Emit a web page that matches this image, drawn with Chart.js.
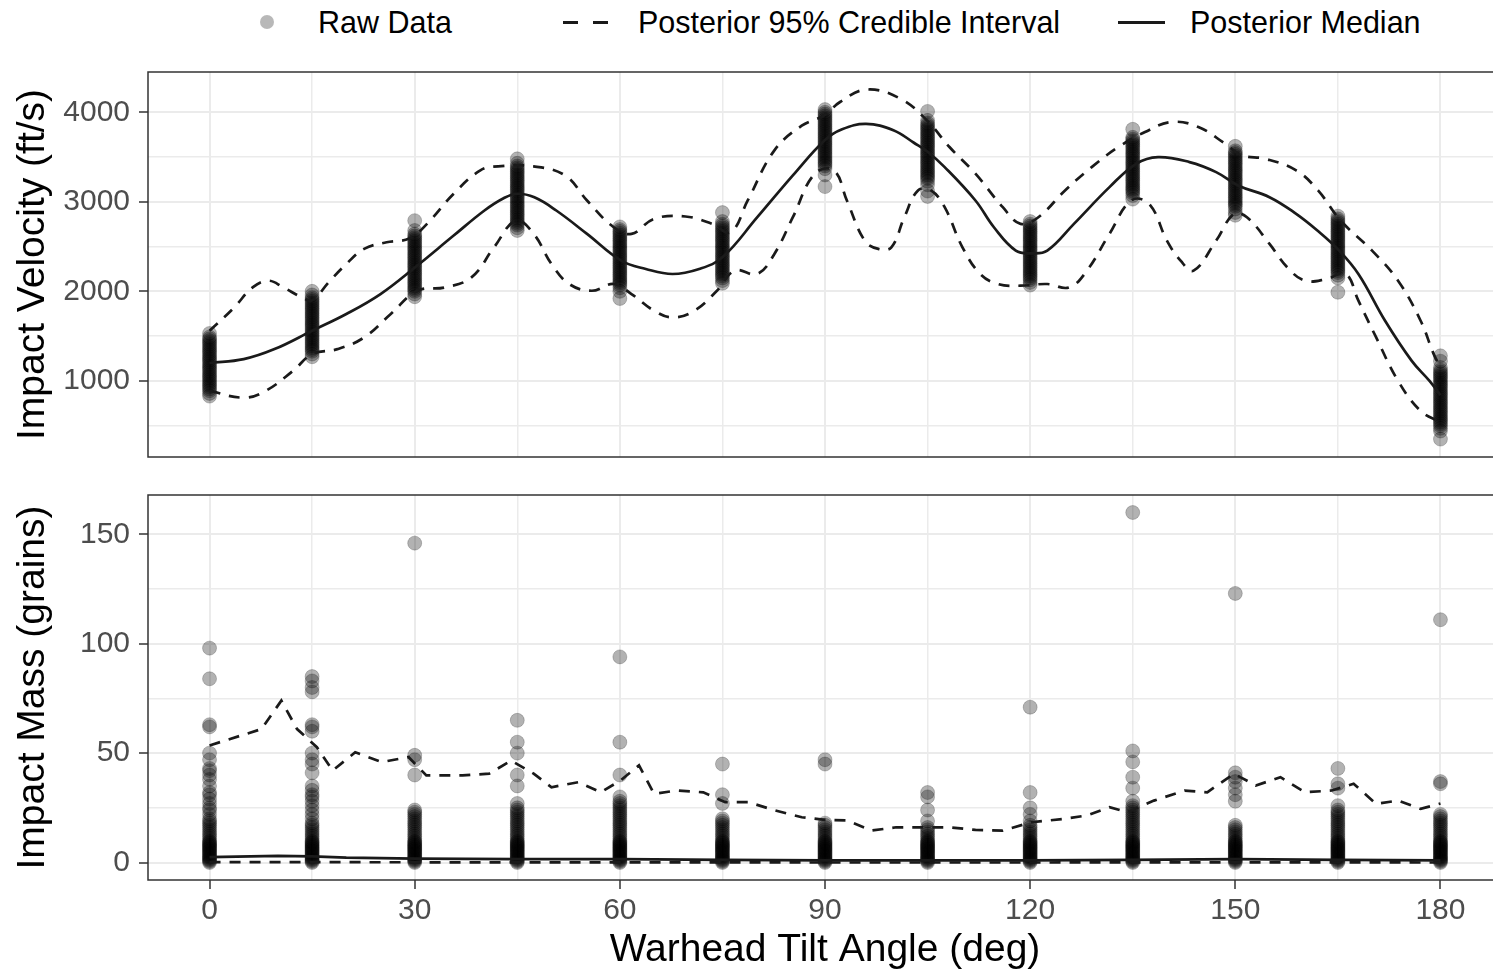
<!DOCTYPE html>
<html>
<head>
<meta charset="utf-8">
<script src="https://cdn.jsdelivr.net/npm/chart.js@4.4.1/dist/chart.umd.min.js"></script>
<style>
html, body { margin: 0; padding: 0; background: #fff; overflow: hidden; }
#page { position: relative; width: 1493px; height: 974px; overflow: hidden; font-family: "Liberation Sans", Arial, sans-serif; }
.lbl { position: absolute; top: 7px; font-size: 30.5px; line-height: 1; color: #000; white-space: nowrap; }
.key { position: absolute; }
canvas { position: absolute; left: 0; }
</style>
</head>
<body>
<div id="page">
  <div class="key" style="left:260px;top:15px;width:14px;height:14px;border-radius:50%;background:rgba(0,0,0,0.28);"></div>
  <div class="lbl" style="left:318px;">Raw Data</div>
  <div class="key" style="left:563px;top:21px;width:15px;height:3px;background:#1a1a1a;"></div>
  <div class="key" style="left:593px;top:21px;width:15px;height:3px;background:#1a1a1a;"></div>
  <div class="lbl" style="left:638px;">Posterior 95% Credible Interval</div>
  <div class="key" style="left:1118px;top:21px;width:47px;height:3px;background:#1a1a1a;"></div>
  <div class="lbl" style="left:1190px;">Posterior Median</div>
  <canvas id="velChart" width="1510" height="484" style="top:0"></canvas>
  <canvas id="massChart" width="1510" height="506" style="top:468px"></canvas>
</div>
<script>
// test angles (deg)
const angles = [0, 15, 30, 45, 60, 75, 90, 105, 120, 135, 150, 165, 180];
const xTicks = [0, 15, 30, 45, 60, 75, 90, 105, 120, 135, 150, 165, 180];
const velTicks = [500, 1000, 1500, 2000, 2500, 3000, 3500, 4000];
const massTicks = [0, 25, 50, 75, 100, 125, 150];

// raw impact velocity samples (ft/s), one list per angle
const velRaw = [
  [1530,1490,1470,1450,1430,1410,1390,1370,1350,1330,1310,1290,1270,1250,1230,1210,1190,1170,1150,1130,1110,1090,1070,1050,1030,1010,990,970,950,930,910,890,860,830],
  [2000,1960,1930,1910,1890,1870,1850,1830,1810,1790,1770,1750,1730,1710,1690,1670,1650,1630,1610,1590,1570,1550,1530,1510,1490,1470,1450,1430,1410,1390,1370,1350,1330,1300,1270],
  [2790,2680,2640,2620,2600,2580,2560,2540,2520,2500,2480,2460,2440,2420,2400,2380,2360,2340,2320,2300,2280,2260,2240,2220,2200,2180,2160,2140,2120,2100,2080,2060,2040,2020,2000,1970,1940],
  [3480,3430,3400,3380,3360,3340,3320,3300,3280,3260,3240,3220,3200,3180,3160,3140,3120,3100,3080,3060,3040,3020,3000,2980,2960,2940,2920,2900,2880,2860,2840,2820,2800,2780,2760,2740,2710,2680],
  [2720,2690,2670,2650,2630,2610,2590,2570,2550,2530,2510,2490,2470,2450,2430,2410,2390,2370,2350,2330,2310,2290,2270,2250,2230,2210,2190,2170,2150,2130,2110,2090,2070,2040,2000,1920],
  [2880,2780,2750,2730,2710,2690,2670,2650,2630,2610,2590,2570,2550,2530,2510,2490,2470,2450,2430,2410,2390,2370,2350,2330,2310,2290,2270,2250,2230,2210,2190,2170,2150,2120,2090],
  [4030,4000,3980,3960,3940,3920,3900,3880,3860,3840,3820,3800,3780,3760,3740,3720,3700,3680,3660,3640,3620,3600,3580,3560,3540,3520,3500,3480,3460,3440,3420,3400,3370,3300,3170],
  [4010,3910,3880,3860,3840,3820,3800,3780,3760,3740,3720,3700,3680,3660,3640,3620,3600,3580,3560,3540,3520,3500,3480,3460,3440,3420,3400,3380,3360,3340,3320,3300,3280,3260,3230,3190,3120,3060],
  [2780,2750,2730,2710,2690,2670,2650,2630,2610,2590,2570,2550,2530,2510,2490,2470,2450,2430,2410,2390,2370,2350,2330,2310,2290,2270,2250,2230,2210,2190,2170,2150,2130,2100,2070],
  [3810,3720,3700,3680,3660,3640,3620,3600,3580,3560,3540,3520,3500,3480,3460,3440,3420,3400,3380,3360,3340,3320,3300,3280,3260,3240,3220,3200,3180,3160,3140,3120,3100,3070,3030],
  [3620,3570,3550,3530,3510,3490,3470,3450,3430,3410,3390,3370,3350,3330,3310,3290,3270,3250,3230,3210,3190,3170,3150,3130,3110,3090,3070,3050,3030,3010,2990,2970,2950,2920,2880,2850],
  [2840,2810,2790,2770,2750,2730,2710,2690,2670,2650,2630,2610,2590,2570,2550,2530,2510,2490,2470,2450,2430,2410,2390,2370,2350,2330,2310,2290,2270,2250,2230,2210,2180,2150,1990],
  [1280,1220,1150,1120,1100,1080,1060,1040,1020,1000,980,960,940,920,900,880,860,840,820,800,780,760,740,720,700,680,660,640,620,600,580,560,540,520,500,470,440,350]
];

// raw impact mass samples (grains), one list per angle
const massRaw = [
  [98,84,63,62,50,47,43,42,40,38,35,32,31,29,27,25,24,22,20,19,18,17,16,15,14,13,12,11,10,9.5,9,8.5,8,7.5,7,6.5,6,5.5,5,4.5,4,3.5,3,2.5,2,1.5,1,0.5,0],
  [85,83,80,78,63,62,60,50,47,45,41,35,33,31,30,28,26,24,22,20,18,17,16,15,14,13,12,11,10,9.5,9,8.5,8,7.5,7,6.5,6,5.5,5,4.5,4,3.5,3,2.5,2,1.5,1,0.5,0],
  [146,49,47,40,24,23,22,21,20,19,18,17,16,15,14,13,12,11,10,9.5,9,8.5,8,7.5,7,6.5,6,5.5,5,4.5,4,3.5,3,2.5,2,1.5,1,0.5,0],
  [65,55,50,40,35,27,25,24,23,22,21,20,19,18,17,16,15,14,13,12,11,10,9.5,9,8.5,8,7.5,7,6.5,6,5.5,5,4.5,4,3.5,3,2.5,2,1.5,1,0.5,0],
  [94,55,40,30,28,27,26,25,24,23,22,21,20,19,18,17,16,15,14,13,12,11,10,9.5,9,8.5,8,7.5,7,6.5,6,5.5,5,4.5,4,3.5,3,2.5,2,1.5,1,0.5,0],
  [45,31,27,20,19,18,17,16,15,14,13,12,11,10,9.5,9,8.5,8,7.5,7,6.5,6,5.5,5,4.5,4,3.5,3,2.5,2,1.5,1,0.5,0],
  [47,45,18,17,16,15,14,13,12,11,10,9.5,9,8.5,8,7.5,7,6.5,6,5.5,5,4.5,4,3.5,3,2.5,2,1.5,1,0.5,0],
  [32,30,24,19,16,15,14,13,12,11,10,9.5,9,8.5,8,7.5,7,6.5,6,5.5,5,4.5,4,3.5,3,2.5,2,1.5,1,0.5,0],
  [71,32,25,22,19,17,16,15,14,13,12,11,10,9.5,9,8.5,8,7.5,7,6.5,6,5.5,5,4.5,4,3.5,3,2.5,2,1.5,1,0.5,0],
  [160,51,46,39,34,28,26,25,24,23,22,21,20,19,18,17,16,15,14,13,12,11,10,9.5,9,8.5,8,7.5,7,6.5,6,5.5,5,4.5,4,3.5,3,2.5,2,1.5,1,0.5,0],
  [123,41,39,37,34,31,28,17,16,15,14,13,12,11,10,9.5,9,8.5,8,7.5,7,6.5,6,5.5,5,4.5,4,3.5,3,2.5,2,1.5,1,0.5,0],
  [43,36,34,26,24,23,22,21,20,19,18,17,16,15,14,13,12,11,10,9.5,9,8.5,8,7.5,7,6.5,6,5.5,5,4.5,4,3.5,3,2.5,2,1.5,1,0.5,0],
  [111,37,36,22,21,20,19,18,17,16,15,14,13,12,11,10,9.5,9,8.5,8,7.5,7,6.5,6,5.5,5,4.5,4,3.5,3,2.5,2,1.5,1,0.5,0]
];

// posterior curves, velocity
const velMedAngle = [0,5,9.5,15,20,25,30,35.7,40.2,43,45,47.5,50.7,55.2,60.2,63.8,67.7,71.6,75,80.1,85.3,90,92.5,96,100,103,105,107.5,112,114.7,117.9,120.2,122.5,126.4,131.6,135.5,138.7,143.3,147.2,150.4,155,158.9,162,165,168,171.9,175.8,178.4,180];
const velMedian = [1200,1243,1355,1560,1747,1970,2265,2623,2903,3040,3090,3050,2903,2642,2343,2250,2194,2250,2380,2828,3295,3690,3810,3870,3800,3660,3560,3388,3015,2716,2455,2425,2455,2754,3164,3425,3500,3444,3332,3183,3052,2866,2680,2470,2194,1672,1224,1000,840];
const velUpAngle = [0,3.6,6.3,8.6,10.8,13.5,15,17.4,20,22.6,25.9,29.2,31.8,35.7,39.6,42.2,47.4,52,55.2,59.1,61.7,65,69.6,73.5,76.2,78.7,82.6,86.6,89.9,92.2,96.1,101,104.9,108.2,112,116,118.6,121.2,125.1,129,132.9,136.8,140.7,144.6,148.5,151,154.3,158.9,162.1,165.4,170,173.8,177.1,179,180];
const velUpper = [1560,1820,2044,2119,2044,1933,1900,2100,2306,2474,2548,2590,2754,3090,3351,3396,3396,3295,3015,2716,2642,2810,2836,2754,2660,3015,3575,3850,3966,4115,4254,4153,3910,3612,3314,2940,2754,2828,3127,3388,3612,3780,3892,3836,3650,3519,3482,3351,3127,2791,2455,2119,1672,1302,1150];
const velLoAngle = [0,5,8.2,12.2,15,18.7,22.6,26.5,30.4,34.4,38.3,41.6,44.8,47.4,50,52.6,55.9,59.1,61.7,65,67.7,70.9,74.2,76.8,80.1,82.6,85.3,88.5,91.3,93.2,95.8,97.8,99.7,101.6,103.6,105.5,107.5,110.1,112.7,115.3,118.6,122.5,125.7,128.3,131.6,134.8,137.4,140,142,143.9,147.2,149.8,151.7,155,157.6,160.2,163.4,166.1,168,170.6,173.8,177.1,180];
const velLower = [888,813,888,1112,1299,1355,1485,1747,2007,2044,2156,2492,2791,2642,2306,2082,2007,2082,1970,1784,1709,1784,2007,2231,2194,2418,2828,3314,3351,3015,2567,2474,2492,2828,3127,3127,2940,2492,2194,2082,2063,2082,2044,2231,2642,3015,2978,2567,2343,2231,2567,2866,2828,2530,2268,2119,2138,2200,1896,1485,1000,664,540];

// posterior curves, mass
const massUpAngle = [0,7.6,10.5,12.8,15.7,18,21.3,25.2,29.1,31.7,37,40.9,44.1,47.4,50,53.9,57.2,60.1,62.8,65,68.3,72.2,75.4,78.8,82.7,86.6,90,93.2,96.8,100.4,104.3,108.2,112,116,120.2,125.1,128.3,131.6,134.2,138.1,142.6,145.9,149.8,153,156.6,160.2,164.1,167.3,170.6,173.8,177.1,180];
const massUpper = [53.5,61,74,61,52.7,42,50.4,45.9,48.2,39.8,39.8,40.6,46.6,40.6,34.4,36.7,32.1,37.5,44.4,31.4,32.9,32.1,27.6,27.6,23.8,20.7,19.5,19.2,14.6,16.1,16.1,16.1,14.9,14.6,18.4,20,21.5,25.3,23,28.3,32.9,32.1,40.6,35.2,39,32.1,32.9,36,26.8,28.3,24.5,27];
const massMedAngle = [0,10,15,20,30,45,60,75,90,105,120,135,150,165,180];
const massMedian = [2.5,3,2.8,2.2,1.8,1.5,1.5,1.2,1,1,1,1.2,1.5,1.2,1];
const massLoAngle = [0,30,60,90,120,150,180];
const massLower = [0.2,0.1,0.1,0,0,0.1,0];

const fontFamily = '"Liberation Sans", Arial, sans-serif';
const tickFont = { family: fontFamily, size: 30 };
const titleFont = { family: fontFamily, size: 39 };
const lineColor = '#1a1a1a';

function rawPoints(raw) {
  const pts = [];
  angles.forEach((a, i) => raw[i].forEach(v => pts.push({ x: a, y: v })));
  return pts;
}
function curve(xs, ys) {
  return xs.map((x, i) => ({ x: x, y: ys[i] }));
}

const panelBorder = {
  id: 'panelBorder',
  afterDatasetsDraw(chart) {
    const a = chart.chartArea, c = chart.ctx;
    c.save();
    c.strokeStyle = '#333333';
    c.lineWidth = 1.5;
    c.strokeRect(a.left, a.top, a.right - a.left, a.bottom - a.top);
    c.restore();
  }
};

function xScale(showLabels) {
  return {
    type: 'linear', min: -9, max: 189,
    afterBuildTicks: s => { s.ticks = xTicks.map(v => ({ value: v })); },
    afterFit: s => { s.height = showLabels ? 94 : 0; },
    ticks: { display: showLabels, font: tickFont, color: '#4D4D4D', padding: 4, maxRotation: 0, autoSkip: false,
      callback: v => (v % 30 === 0 ? v : '') },
    grid: { color: '#EBEBEB', lineWidth: c => (c.tick && c.tick.value % 30 === 0 ? 2 : 1.5),
      drawTicks: showLabels, tickLength: 9, tickWidth: 1.5,
      tickColor: c => (c.tick && c.tick.value % 30 === 0 ? '#333333' : 'rgba(0,0,0,0)') },
    border: { display: false },
    title: { display: showLabels, text: 'Warhead Tilt Angle (deg)', font: titleFont, color: '#000', padding: { top: 0, bottom: 0 } }
  };
}

function yScale(min, max, ticks, major, title) {
  return {
    type: 'linear', min: min, max: max,
    afterBuildTicks: s => { s.ticks = ticks.map(v => ({ value: v })); },
    afterFit: s => { s.width = 148; },
    ticks: { font: tickFont, color: '#4D4D4D', padding: 9, autoSkip: false,
      callback: v => (v % major === 0 ? v : '') },
    grid: { color: '#EBEBEB', lineWidth: c => (c.tick && c.tick.value % major === 0 ? 2 : 1.5),
      tickLength: 9, tickWidth: 1.5,
      tickColor: c => (c.tick && c.tick.value % major === 0 ? '#333333' : 'rgba(0,0,0,0)') },
    border: { display: false },
    title: { display: true, text: title, font: titleFont, color: '#000', padding: { top: 10, bottom: 0 } }
  };
}

function lineSet(data, dashed, tension) {
  return { data: data, borderColor: lineColor, borderWidth: 2.7, borderDash: dashed ? [11, 9] : [],
    pointRadius: 0, tension: tension, fill: false, order: 1 };
}
function pointSet(data) {
  return { data: data, showLine: false, pointRadius: 7, pointBackgroundColor: 'rgba(0,0,0,0.3)',
    pointBorderColor: 'rgba(0,0,0,0.2)', pointBorderWidth: 1, order: 2 };
}

const common = {
  responsive: false, devicePixelRatio: 1, animation: false, events: [],
  plugins: { legend: { display: false }, tooltip: { enabled: false } }
};

new Chart(document.getElementById('velChart'), {
  type: 'line',
  data: { datasets: [
    lineSet(curve(velMedAngle, velMedian), false, 0.4),
    lineSet(curve(velUpAngle, velUpper), true, 0.4),
    lineSet(curve(velLoAngle, velLower), true, 0.4),
    pointSet(rawPoints(velRaw))
  ] },
  options: Object.assign({}, common, {
    layout: { padding: { top: 72, bottom: 0, left: 0, right: 3 } },
    scales: { x: xScale(false), y: yScale(150, 4450, velTicks, 1000, 'Impact Velocity (ft/s)') }
  }),
  plugins: [panelBorder]
});

new Chart(document.getElementById('massChart'), {
  type: 'line',
  data: { datasets: [
    lineSet(curve(massMedAngle, massMedian), false, 0),
    lineSet(curve(massUpAngle, massUpper), true, 0),
    lineSet(curve(massLoAngle, massLower), true, 0),
    pointSet(rawPoints(massRaw))
  ] },
  options: Object.assign({}, common, {
    layout: { padding: { top: 3, bottom: 0, left: 0, right: 3 } },
    scales: { x: xScale(true), y: yScale(-8, 168, massTicks, 50, 'Impact Mass (grains)') }
  }),
  plugins: [panelBorder]
});
</script>
</body>
</html>
